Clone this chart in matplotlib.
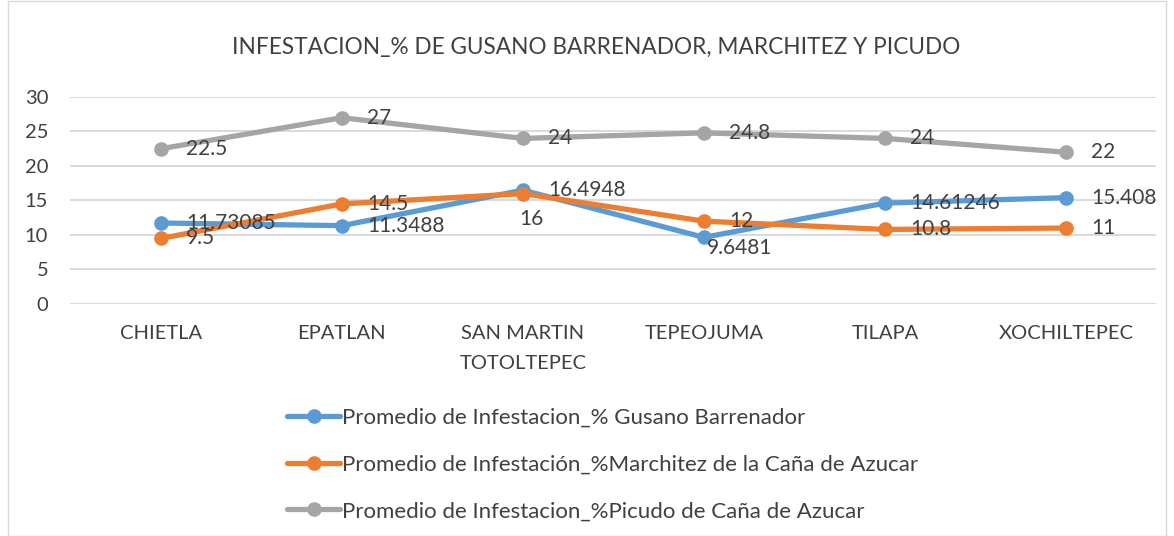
import matplotlib
matplotlib.use("Agg")
import matplotlib.pyplot as plt
from matplotlib.patches import Rectangle

plt.rcParams['font.family'] = ['Lato', 'DejaVu Sans']

# Chart data
municipios = ['CHIETLA', 'EPATLAN', 'SAN MARTIN\nTOTOLTEPEC', 'TEPEOJUMA', 'TILAPA', 'XOCHILTEPEC']
gusano = [11.73085, 11.3488, 16.4948, 9.6481, 14.61246, 15.408]
marchitez = [9.5, 14.5, 16, 12, 10.8, 11]
picudo = [22.5, 27, 24, 24.8, 24, 22]

gusano_txt = ['11.73085', '11.3488', '16.4948', '9.6481', '14.61246', '15.408']
marchitez_txt = ['9.5', '14.5', '16', '12', '10.8', '11']
picudo_txt = ['22.5', '27', '24', '24.8', '24', '22']

series = [
    ('Promedio de Infestacion_% Gusano Barrenador', gusano, gusano_txt, '#5B9BD5'),
    ('Promedio de Infestación_%Marchitez de la Caña de Azucar', marchitez, marchitez_txt, '#ED7D31'),
    ('Promedio de Infestacion_%Picudo de Caña de Azucar', picudo, picudo_txt, '#A5A5A5'),
]

text_col = '#404040'

fig = plt.figure(figsize=(11.74, 5.36), dpi=100)
fig.patches.append(Rectangle((8 / 1174, 0), 1 - 16 / 1174, 1 - 1 / 536,
                             transform=fig.transFigure, fill=False,
                             edgecolor='#D9D9D9', linewidth=1))

ax = fig.add_axes([0.060, 0.433, 0.925, 0.386])
x = list(range(len(municipios)))

handles = []
for name, vals, txt, col in series:
    h, = ax.plot(x, vals, color=col, linewidth=3.8, marker='o', markersize=9.5,
                 label=name, solid_capstyle='round', zorder=3)
    handles.append(h)
    for i, (v, t) in enumerate(zip(vals, txt)):
        # default: right of point, vertically centred
        off, ha, va = (18, 0), 'left', 'center'
        if t == '16':
            off, ha, va = (6, -18), 'center', 'center'
        elif t == '9.6481':
            off, ha, va = (2, -7.5), 'left', 'center'
        ax.annotate(t, (i, v), xytext=off, textcoords='offset points',
                    ha=ha, va=va, fontsize=15, color=text_col, zorder=4)

ax.set_xlim(-0.5, len(municipios) - 0.5)
ax.set_ylim(0, 30)
ax.set_yticks([0, 5, 10, 15, 20, 25, 30])
ax.set_xticks(x)
ax.set_xticklabels(municipios, linespacing=1.95)
ax.grid(axis='y', color='#D9D9D9', linewidth=1.4, zorder=0)
ax.set_axisbelow(True)
for s in ax.spines.values():
    s.set_visible(False)
ax.tick_params(axis='both', length=0, labelsize=14.5, labelcolor=text_col)
ax.tick_params(axis='x', pad=15)
ax.tick_params(axis='y', pad=16)

fig.text(0.508, 0.912, 'INFESTACION_% DE GUSANO BARRENADOR, MARCHITEZ Y PICUDO',
         ha='center', va='center', fontsize=16.3, color=text_col)

fig.legend(handles=handles, loc='upper left', bbox_to_anchor=(278 / 1174, 1 - 399 / 536),
           frameon=False, fontsize=16, labelcolor=text_col, handlelength=2.4,
           handletextpad=0.1, labelspacing=1.2, borderaxespad=0)

fig.savefig('out.png', dpi=100)
